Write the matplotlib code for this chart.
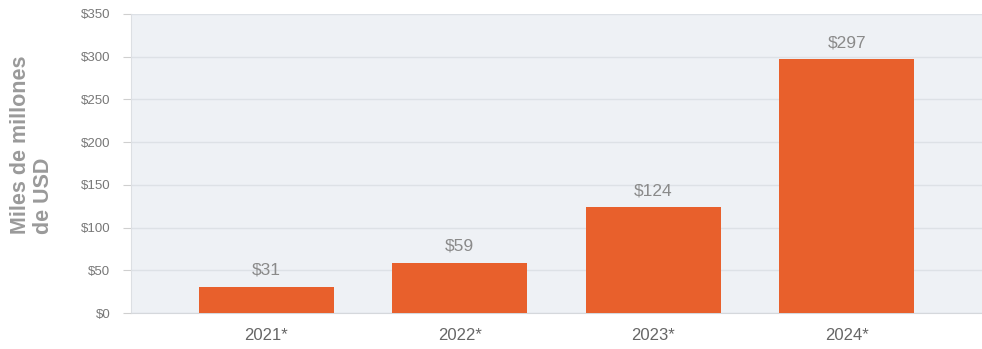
import matplotlib.pyplot as plt
import numpy as np

# ---------- 数据 ----------
years = ['2021*', '2022*', '2023*', '2024*']
values = [31, 59, 124, 297]
bar_labels = ['$31', '$59', '$124', '$297']
yticks = [0, 50, 100, 150, 200, 250, 300, 350]
ytick_labels = [f'${v}' for v in yticks]

# ---------- 绘图 ----------
plt.rcParams['font.family'] = ['Liberation Sans', 'DejaVu Sans']

fig = plt.figure(figsize=(9.82, 3.49), dpi=100)
ax = fig.add_axes([0.1334, 0.103, 0.8666, 0.857])
ax.set_facecolor('#eef1f5')

x = np.arange(len(years))
ax.bar(x, values, width=0.70, color='#e8602c', zorder=3)

for xi, v, lab in zip(x, values, bar_labels):
    ax.annotate(lab, (xi, v), xytext=(0, 6.5), textcoords='offset points',
                ha='center', va='bottom', fontsize=12.5, color='#8a8a8a')

ax.set_xlim(-0.70, 3.70)
ax.set_ylim(0, 350)
ax.set_xticks(x)
ax.set_xticklabels(years, fontsize=12, color='#666666')
ax.set_yticks(yticks)
ax.set_yticklabels(ytick_labels, fontsize=9.5, color='#777777')

ax.yaxis.grid(True, color='#dde1e6', linewidth=1.0, zorder=0)
ax.tick_params(axis='x', length=0, pad=11)
ax.tick_params(axis='y', length=6, width=0.8, color='#cfcfcf', pad=9)

for s in ['top', 'right']:
    ax.spines[s].set_visible(False)
ax.spines['left'].set_color('#dcdfe3')
ax.spines['bottom'].set_color('#d5d8dc')

fig.text(0.0325, 0.585, 'Miles de millones\nde USD', rotation=90,
         ha='center', va='center', multialignment='left',
         fontsize=15.5, fontweight='bold', color='#9a9a9a', linespacing=1.1)

fig.savefig('out.png', dpi=100)
